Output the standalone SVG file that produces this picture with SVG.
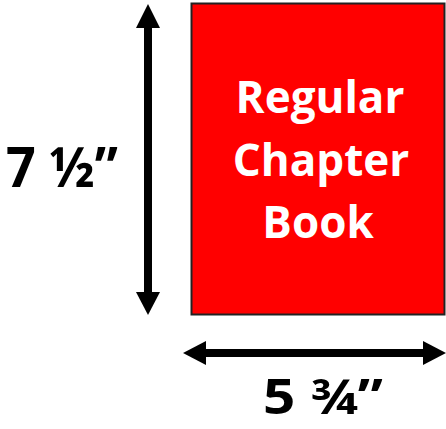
<svg xmlns="http://www.w3.org/2000/svg" width="446" height="429" viewBox="0 0 446 429">
<defs>
<style>
.lbl{font-family:"Open Sans","Liberation Sans",sans-serif;font-weight:bold;fill:#000}
.in{font-family:"Open Sans","Liberation Sans",sans-serif;font-weight:bold;fill:#fff;font-size:44px;text-anchor:middle}
.ar{stroke:#000;stroke-width:8;fill:none}
</style>
</defs>
<rect width="446" height="429" fill="#fff"/>
<g id="book">
<rect x="191.5" y="3.5" width="253" height="311" fill="#ff0000" stroke="#222" stroke-width="2"/>
<text class="in" x="320" y="113">Regular</text>
<text class="in" x="321" y="176">Chapter</text>
<text class="in" x="318" y="238">Book</text>
</g>
<g id="connectors">
<line class="ar" x1="148" y1="26" x2="148" y2="294"/>
<polygon points="148,4 136,28 160,28"/>
<polygon points="148,315 136,292 160,292"/>
<line class="ar" x1="204" y1="353" x2="424" y2="353"/>
<polygon points="183,353 206,341 206,365"/>
<polygon points="446,353 423,341 423,365"/>
</g>
<g id="height-label"><text class="lbl" x="6" y="187" font-size="56" textLength="112" lengthAdjust="spacingAndGlyphs">7 ½”</text></g>
<g id="width-label"><text class="lbl" x="263" y="414" font-size="49" textLength="120" lengthAdjust="spacingAndGlyphs">5 ¾”</text></g>
</svg>
